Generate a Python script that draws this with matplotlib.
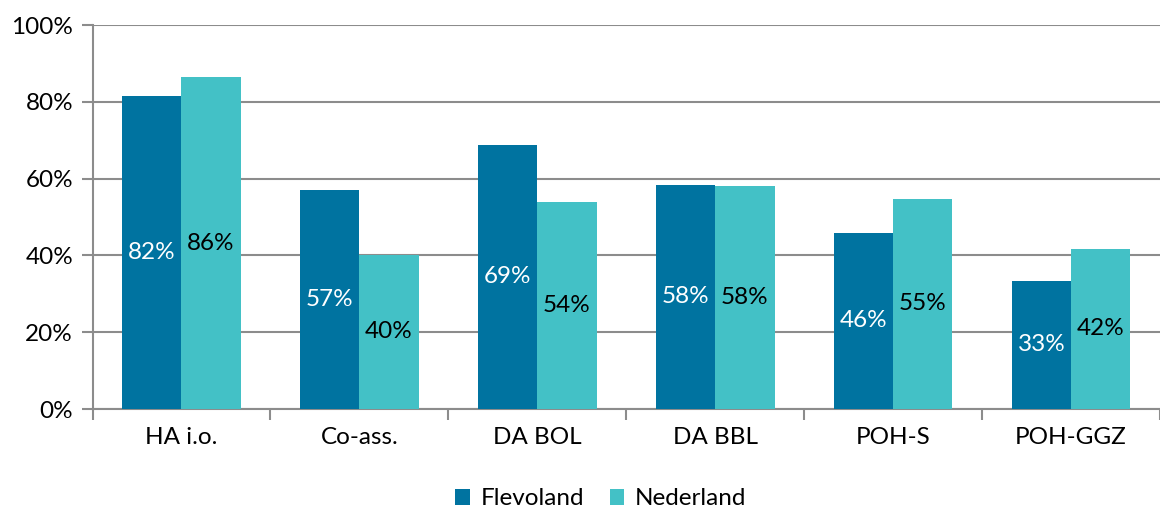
import matplotlib.pyplot as plt
import numpy as np

categories = ['HA i.o.', 'Co-ass.', 'DA BOL', 'DA BBL', 'POH-S', 'POH-GGZ']
flevoland = [81.6, 57.1, 68.8, 58.4, 45.9, 33.4]
nederland = [86.4, 40.2, 54.0, 58.2, 54.8, 41.7]

dark = '#0073A0'
light = '#43C1C6'
grey = '#8C8C8C'

plt.rcParams['font.family'] = ['Lato', 'DejaVu Sans']

fig = plt.figure(figsize=(11.6, 5.08), dpi=100)
left = 92.5
ax = fig.add_axes([left / 1160, 99 / 508, 1 - left / 1160, 384 / 508])

x = np.arange(len(categories))
w = 1 / 3
b1 = ax.bar(x - w / 2, flevoland, w, color=dark, label='Flevoland', zorder=3)
b2 = ax.bar(x + w / 2, nederland, w, color=light, label='Nederland', zorder=3)

# value labels in the middle of each bar
for bars, vals, col in [(b1, flevoland, 'white'), (b2, nederland, 'black')]:
    for r, v in zip(bars, vals):
        ax.text(r.get_x() + r.get_width() / 2, v / 2, '%d%%' % round(v),
                ha='center', va='center', color=col, fontsize=17.5, zorder=4)

ax.set_ylim(0, 100)
ax.set_xlim(-0.5, -0.5 + (1160 - left) / 180)
ax.set_yticks(np.arange(0, 101, 20))
ax.set_yticklabels(['%d%%' % t for t in range(0, 101, 20)])
ax.yaxis.grid(True, color=grey, linewidth=1.5, zorder=0)

# category ticks sit at group boundaries, labels at group centres
ax.set_xticks(np.arange(-0.5, len(categories), 1))
ax.set_xticklabels([])
ax.set_xticks(x, minor=True)
ax.set_xticklabels(categories, minor=True)
ax.tick_params(axis='x', which='minor', length=0, pad=13, labelsize=17.5)
ax.tick_params(axis='x', which='major', length=8, width=1.5, color=grey)
ax.tick_params(axis='y', length=8, width=1.5, color=grey, labelsize=17.5, pad=6)

for s in ['top', 'right']:
    ax.spines[s].set_visible(False)
for s in ['left', 'bottom']:
    ax.spines[s].set_color(grey)
    ax.spines[s].set_linewidth(1.5)

fig.legend(loc='center', bbox_to_anchor=(0.518, 0.018), ncol=2, frameon=False,
           fontsize=17.5, handlelength=0.6, handleheight=0.6, handletextpad=0.45,
           columnspacing=1.05)

fig.savefig('out.png', dpi=100)
